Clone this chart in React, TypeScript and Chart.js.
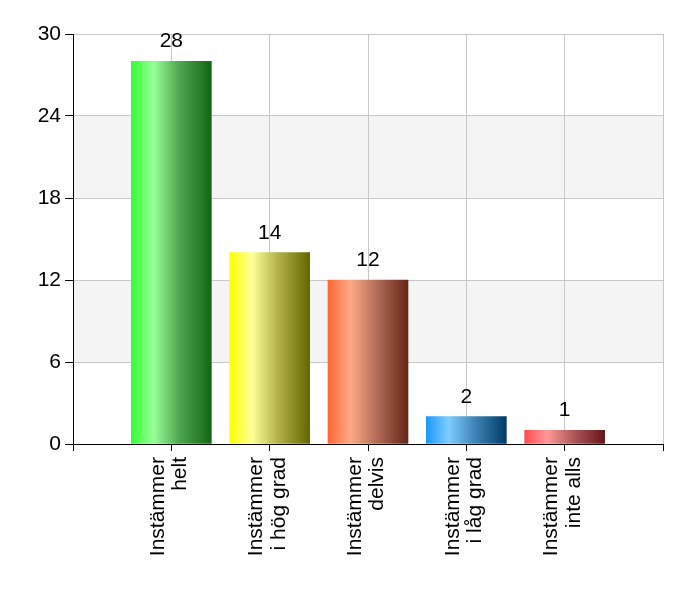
import React, { useEffect, useRef } from "react";
import { Chart, registerables } from "chart.js";

Chart.register(...registerables);

const categories: string[][] = [
  [],
  ["Instämmer", "helt"],
  ["Instämmer", "i hög grad"],
  ["Instämmer", "delvis"],
  ["Instämmer", "i låg grad"],
  ["Instämmer", "inte alls"],
  [],
];
const values: (number | null)[] = [null, 28, 14, 12, 2, 1, null];
const yTicks: number[] = [0, 6, 12, 18, 24, 30];
const bands: [number, number][] = [
  [6, 12],
  [18, 24],
];
const barStops: string[][] = [
  [],
  ["#33ff33", "#99ff99", "#4ea64e", "#136613"],
  ["#ffff00", "#ffff99", "#b3b34a", "#666600"],
  ["#ff6633", "#ffaa88", "#b46e5a", "#662616"],
  ["#1a99ff", "#80ccff", "#3f86b8", "#003a66"],
  ["#ff4d4d", "#ff9999", "#b05a5a", "#661616"],
  [],
];

const FONT = "'Liberation Sans', Arial, sans-serif";
const FS = 21;
const BAR_W = 80;

export default function App() {
  const ref = useRef<HTMLCanvasElement>(null);
  useEffect(() => {
    if (!ref.current) return;
    const bandPlugin = {
      id: "bands",
      beforeDraw(chart: any) {
        const { ctx, chartArea } = chart;
        const y = chart.scales.y;
        ctx.save();
        ctx.fillStyle = "#f4f4f4";
        for (const [a, b] of bands) {
          const y1 = y.getPixelForValue(b);
          const y2 = y.getPixelForValue(a);
          ctx.fillRect(chartArea.left, y1, chartArea.right - chartArea.left, y2 - y1);
        }
        ctx.restore();
      },
    };
    const labelPlugin = {
      id: "valueLabels",
      afterDatasetsDraw(chart: any) {
        const { ctx } = chart;
        const meta = chart.getDatasetMeta(0);
        ctx.save();
        ctx.font = `${FS}px ${FONT}`;
        ctx.fillStyle = "#000";
        ctx.textAlign = "center";
        ctx.textBaseline = "alphabetic";
        meta.data.forEach((el: any, i: number) => {
          const v = values[i];
          if (v == null) return;
          ctx.fillText(String(v), el.x, el.y - 14);
        });
        ctx.restore();
      },
    };
    const chart = new Chart(ref.current, {
      type: "bar",
      data: {
        labels: categories,
        datasets: [
          {
            data: values,
            barThickness: BAR_W,
            backgroundColor: (c: any) => {
              const chart = c.chart;
              const i = c.dataIndex;
              const stops = barStops[i];
              if (!chart.chartArea || !stops || stops.length === 0) return "#ccc";
              const cx = chart.scales.x.getPixelForValue(i);
              const g = chart.ctx.createLinearGradient(cx - BAR_W / 2, 0, cx + BAR_W / 2, 0);
              g.addColorStop(0, stops[0]);
              g.addColorStop(0.28, stops[1]);
              g.addColorStop(0.6, stops[2]);
              g.addColorStop(1, stops[3]);
              return g;
            },
          },
        ],
      },
      options: {
        animation: false,
        responsive: false,
        maintainAspectRatio: false,
        layout: { padding: { left: 0, right: 37, top: 34, bottom: 0 } },
        plugins: { legend: { display: false }, tooltip: { enabled: false } },
        scales: {
          x: {
            offset: false,
            grid: { color: "#c8c8c8", tickColor: "#000", tickLength: 7, offset: false },
            border: { color: "#000", width: 1 },
            ticks: {
              autoSkip: false,
              maxRotation: 90,
              minRotation: 90,
              padding: 6,
              labelOffset: -13,
              color: "#000",
              font: { family: FONT, size: FS, lineHeight: 1.05 },
            },
            afterFit: (s: any) => {
              s.height = 156;
            },
          },
          y: {
            min: 0,
            max: 30,
            afterBuildTicks: (s: any) => {
              s.ticks = yTicks.map((v) => ({ value: v }));
            },
            grid: { color: "#c8c8c8", tickColor: "#000", tickLength: 8 },
            border: { color: "#000", width: 1 },
            ticks: {
              padding: 4,
              color: "#000",
              font: { family: FONT, size: FS },
            },
            afterFit: (s: any) => {
              s.width = 73;
            },
          },
        },
      },
      plugins: [bandPlugin, labelPlugin],
    } as any);
    return () => chart.destroy();
  }, []);
  return (
    <div style={{ position: "absolute", left: 0, top: 0, width: 700, height: 600, background: "#fff" }}>
      <canvas ref={ref} width={700} height={600} style={{ width: 700, height: 600 }} />
    </div>
  );
}
